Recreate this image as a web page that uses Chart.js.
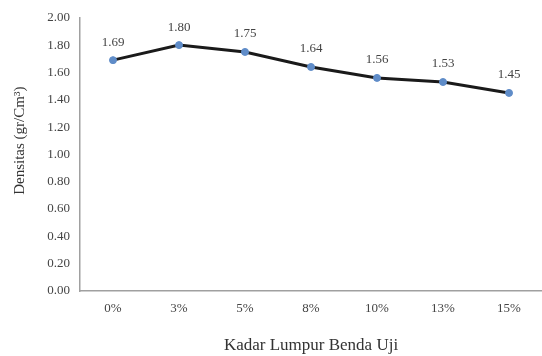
<!DOCTYPE html>
<html>
<head>
<meta charset="utf-8">
<script src="https://cdn.jsdelivr.net/npm/chart.js@4/dist/chart.umd.min.js"></script>
<style>
  html, body { margin: 0; padding: 0; background: #fff; overflow: hidden; }
  #wrap { width: 542px; height: 356px; position: relative; overflow: hidden; }
</style>
</head>
<body>
<div id="wrap"><canvas id="c" width="547" height="356"></canvas></div>
<script>
// Mud content of the test specimens and measured density
const categories = ['0%', '3%', '5%', '8%', '10%', '13%', '15%'];
const densityValues = [1.69, 1.80, 1.75, 1.64, 1.56, 1.53, 1.45];
const yTickMin = 0;
const yTickMax = 2;
const yTickStep = 0.2;
const yTitle = 'Densitas (gr/Cm³)';
const xTitle = 'Kadar Lumpur Benda Uji';

const serif = '"Liberation Serif", "Times New Roman", serif';

// Write each value just above its point, and the rotated y-axis title
const valueLabels = {
  id: 'valueLabels',
  afterDatasetsDraw(chart) {
    const ctx = chart.ctx;
    const meta = chart.getDatasetMeta(0);
    ctx.save();
    ctx.font = '13px ' + serif;
    ctx.fillStyle = '#444';
    ctx.textAlign = 'center';
    ctx.textBaseline = 'middle';
    meta.data.forEach((pt, i) => {
      ctx.fillText(densityValues[i].toFixed(2), pt.x, pt.y - 18);
    });
    ctx.restore();

    const area = chart.chartArea;
    ctx.save();
    ctx.font = '15px ' + serif;
    ctx.fillStyle = '#333';
    ctx.textAlign = 'center';
    ctx.textBaseline = 'middle';
    ctx.translate(20, area.top + (area.bottom - area.top) * 0.45);
    ctx.rotate(-Math.PI / 2);
    ctx.fillText(yTitle, 0, 0);
    ctx.restore();
  }
};

new Chart(document.getElementById('c'), {
  type: 'line',
  data: {
    labels: categories,
    datasets: [{
      data: densityValues,
      borderColor: '#1a1a1a',
      borderWidth: 3,
      tension: 0,
      pointRadius: 3.5,
      pointBackgroundColor: '#5f8cc8',
      pointBorderColor: '#5f8cc8',
      pointBorderWidth: 1
    }]
  },
  options: {
    responsive: false,
    animation: false,
    devicePixelRatio: 1,
    layout: { padding: { top: 12, right: 0, left: 0, bottom: 0 } },
    plugins: {
      legend: { display: false },
      tooltip: { enabled: false }
    },
    scales: {
      x: {
        offset: true,
        grid: { display: false, drawTicks: false },
        border: { display: true, color: '#a0a0a0', width: 1.5 },
        ticks: { color: '#444', font: { family: serif, size: 13 }, padding: 10 },
        title: {
          display: true,
          text: xTitle,
          color: '#333',
          font: { family: serif, size: 17 },
          padding: { top: 8, bottom: 0 }
        },
        afterFit(scale) { scale.height = 65; }
      },
      y: {
        min: yTickMin,
        max: yTickMax,
        grid: { display: false, drawTicks: false },
        border: { display: true, color: '#a0a0a0', width: 1.5 },
        ticks: {
          stepSize: yTickStep,
          color: '#444',
          font: { family: serif, size: 13 },
          padding: 10,
          callback: (v) => Number(v).toFixed(2)
        },
        afterFit(scale) { scale.width = 80; }
      }
    }
  },
  plugins: [valueLabels]
});
</script>
</body>
</html>
